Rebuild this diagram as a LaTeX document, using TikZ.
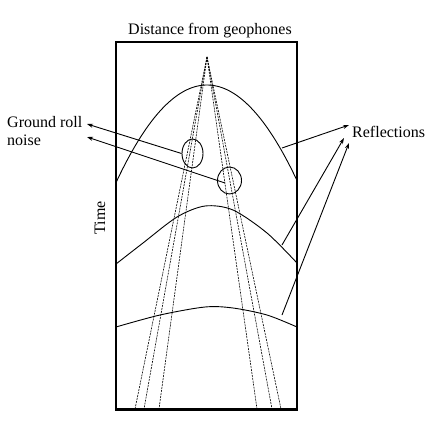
\documentclass[tikz,border=0pt]{standalone}
\usepackage{fontspec}
\setmainfont{Liberation Serif}
\usetikzlibrary{shapes.geometric,arrows.meta}
\begin{document}
\begin{tikzpicture}[x=1pt,y=-1pt,
 lbl/.style={font=\fontsize{16}{18}\selectfont, inner sep=0pt},
 frame/.style={line width=2.8pt},
 refl/.style={line width=0.9pt},
 ray/.style={line width=0.6pt, dash pattern=on 2pt off 1pt},
 ptr/.style={line width=0.9pt, -{Stealth[length=6pt,width=4pt]}},
 ring/.style={draw, ellipse, line width=0.9pt, inner sep=0pt}]
\useasboundingbox (0,0) rectangle (436,436);
% reflection curves
\draw[refl] plot[domain=116:297, samples=80] (\x, {85+0.0118*(\x-207)*(\x-207)});
\draw[refl] plot[smooth] coordinates {(116,264) (143,243) (177,217) (205,206) (233,210) (267,233) (297,263)};
\draw[refl] plot[smooth] coordinates {(116,327) (160,315) (205,307) (233,308) (267,315) (297,327)};
% ground-roll rays
\coordinate (apex) at (207,57);
\foreach \bx in {135,144,159,257,272,281} \draw[ray] (apex) -- (\bx,409);
% ellipses
\node[ring, minimum width=21pt, minimum height=29pt] (e1) at (192.5,153.5) {};
\node[ring, minimum width=24pt, minimum height=27pt] (e2) at (229.5,180.5) {};
% labels
\node[lbl, anchor=base] (title) at (210,35) {Distance from geophones};
\node[lbl, anchor=base west] (gr1) at (7,127) {Ground roll};
\node[lbl, anchor=base west] (gr2) at (7,145) {noise};
\node[lbl, anchor=base west] (refl) at (352,137) {Reflections};
\node[lbl, rotate=90] (time) at (100,218) {Time};
% arrows
\coordinate (g1) at (87,124);
\coordinate (g2) at (87,137);
\coordinate (s2) at (225,183);
\draw[ptr] (e1.west) -- (g1);
\draw[ptr] (s2) -- (g2);
\coordinate (r1s) at (282,148);
\coordinate (r2s) at (282,245);
\coordinate (r3s) at (282,315);
\coordinate (r1) at (349,125);
\coordinate (r2) at (344,138);
\coordinate (r3) at (349,143);
\draw[ptr] (r1s) -- (r1);
\draw[ptr] (r2s) -- (r2);
\draw[ptr] (r3s) -- (r3);
% frame
\draw[frame] (116,42) rectangle (297,409.5);
\end{tikzpicture}
\end{document}
